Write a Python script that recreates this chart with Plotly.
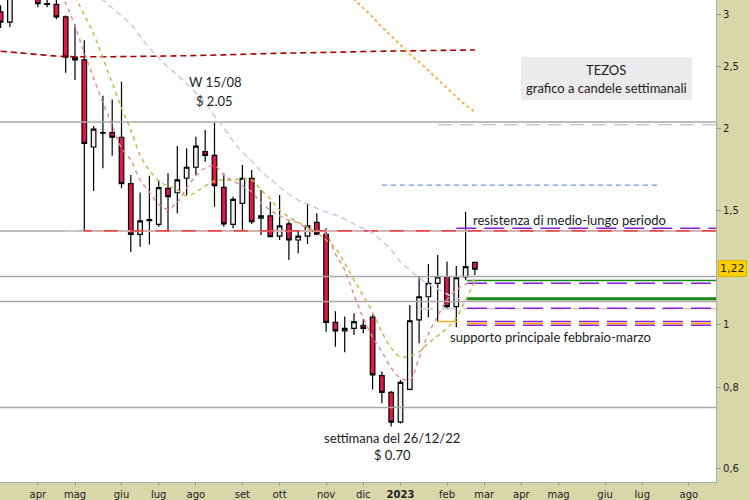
import plotly.graph_objects as go
import pandas as pd

# ---------------- data ----------------
week0 = pd.Timestamp("2023-01-02")
week_offsets = list(range(-43, 9))          # weekly candles, offset in weeks from 2 Jan 2023
dates = [week0 + pd.Timedelta(weeks=k) for k in week_offsets]

opens = [3.03, 2.92, 3.25, 3.40, 3.20, 3.11, 3.11, 2.975, 2.58, 2.555,
         1.876, 1.97, 1.974, 1.942, 1.648, 1.376, 1.445, 1.426, 1.620, 1.595,
         1.679, 1.746, 1.845, 1.821, 1.626, 1.426, 1.536, 1.679, 1.457, 1.469,
         1.368, 1.428, 1.349, 1.368, 1.436, 1.376, 1.007, 0.977, 0.986, 0.997,
         1.026, 0.834, 0.786, 0.707, 0.794, 1.016, 1.103, 1.157, 1.184, 1.065,
         1.184, 1.246]
highs = [3.10, 3.35, 3.50, 3.48, 3.30, 3.22, 3.18, 2.99, 2.90, 2.74,
         2.021, 2.25, 2.22, 2.365, 1.699, 1.597, 1.694, 1.669, 1.709, 1.882,
         1.867, 1.946, 1.992, 2.045, 1.709, 1.573, 1.760, 1.729, 1.611, 1.545,
         1.582, 1.440, 1.398, 1.536, 1.483, 1.406, 1.048, 1.028, 1.040, 1.019,
         1.036, 0.846, 0.790, 0.821, 1.071, 1.184, 1.239, 1.279, 1.250, 1.230,
         1.491, 1.246]
lows = [2.86, 2.87, 3.20, 3.22, 3.08, 3.08, 2.95, 2.44, 2.38, 1.39,
        1.605, 1.74, 1.819, 1.620, 1.293, 1.317, 1.328, 1.414, 1.393, 1.483,
        1.582, 1.699, 1.780, 1.518, 1.414, 1.406, 1.398, 1.428, 1.373, 1.362,
        1.349, 1.257, 1.287, 1.330, 1.373, 0.974, 0.924, 0.906, 0.963, 0.969,
        0.794, 0.756, 0.696, 0.704, 0.792, 0.935, 1.026, 1.010, 1.055, 0.990,
        1.170, 1.191]
closes = [2.92, 3.25, 3.40, 3.28, 3.12, 3.12, 2.975, 2.58, 2.555, 1.90,
          1.999, 1.975, 1.942, 1.648, 1.376, 1.444, 1.450, 1.624, 1.573, 1.669,
          1.746, 1.882, 1.821, 1.635, 1.428, 1.558, 1.679, 1.439, 1.469, 1.365,
          1.418, 1.349, 1.368, 1.418, 1.377, 1.007, 0.977, 0.986, 1.010, 0.986,
          0.836, 0.786, 0.707, 0.814, 1.013, 1.103, 1.157, 1.184, 1.065, 1.180,
          1.227, 1.216]

# moving averages (values read per week)
ma_fast_weeks = list(range(-37, 9))
ma_fast = [3.30, 3.12, 2.881, 2.618, 2.396, 2.193, 2.028, 1.869, 1.791, 1.669,
           1.599, 1.530, 1.505, 1.543, 1.622, 1.693, 1.741, 1.754, 1.699, 1.663,
           1.634, 1.599, 1.538, 1.500, 1.469, 1.448, 1.433, 1.406, 1.393, 1.377,
           1.284, 1.213, 1.110, 1.023, 0.956, 0.907, 0.857, 0.827, 0.821, 0.888,
           0.967, 1.030, 1.090, 1.130, 1.153, 1.171]
ma_mid_weeks = list(range(-35, 9))
ma_mid = [3.20, 2.996, 2.800, 2.572, 2.354, 2.154, 1.992, 1.823, 1.729, 1.663,
          1.634, 1.611, 1.577, 1.599, 1.634, 1.663, 1.669, 1.669, 1.675, 1.669,
          1.611, 1.560, 1.500, 1.464, 1.436, 1.413, 1.383, 1.349, 1.311, 1.243,
          1.171, 1.106, 1.045, 0.973, 0.920, 0.891, 0.894, 0.907, 0.936, 0.960,
          0.987, 1.023, 1.090, 1.166]
ma_slow_weeks = list(range(-33, 8))
ma_slow = [3.25, 3.16, 3.071, 2.985, 2.901, 2.781, 2.665, 2.572, 2.491, 2.422,
           2.345, 2.272, 2.193, 2.094, 2.007, 1.916, 1.843, 1.785, 1.723, 1.675,
           1.628, 1.588, 1.554, 1.533, 1.510, 1.490, 1.474, 1.453, 1.428, 1.406,
           1.383, 1.344, 1.302, 1.248, 1.213, 1.179, 1.153, 1.134, 1.114, 1.098,
           1.090]
ma_long_weeks = [-43, -41, -39, -37, -35, -31, -27, -23, -19, -15, -11, -7, -3, 1, 5, 8]
ma_long = [2.635, 2.620, 2.604, 2.590, 2.584, 2.584, 2.588, 2.593, 2.601, 2.611,
           2.619, 2.625, 2.633, 2.638, 2.643, 2.646]
ma_vlong_weeks = list(range(-6, 9))
ma_vlong = [3.27, 3.17, 3.07, 2.975, 2.871, 2.781, 2.693, 2.607, 2.536, 2.456,
            2.387, 2.312, 2.240, 2.177, 2.124]

# horizontal levels
gray_levels = [2.05, 1.393, 1.185, 1.085, 0.745]
red_level = 1.393
red_level_start = "2022-05-09"
purple_levels = [1.406, 1.157, 1.059, 1.010, 0.997]
purple_starts = ["2023-02-13", "2023-02-21", "2023-02-21", "2023-02-21", "2023-02-21"]
orange_dash_level = 1.003
green_levels = [1.168, 1.095]
green_widths = [1.5, 3]
green_start = "2023-02-21"
lightgray_dash_levels = [2.03, 1.057]
lightgray_dash_starts = ["2023-01-30", "2023-01-16"]
blue_level = 1.639
blue_span = ["2022-12-19", "2023-07-17"]
orange_short_level = 1.010
orange_short_span = ["2023-01-30", "2023-02-14"]
last_price = 1.22

month_ticks = ["2022-04-04", "2022-05-02", "2022-06-06", "2022-07-04", "2022-08-01",
               "2022-09-05", "2022-10-03", "2022-11-07", "2022-12-05", "2023-01-02",
               "2023-02-06", "2023-03-06", "2023-04-03", "2023-05-01", "2023-06-05",
               "2023-07-03", "2023-08-07"]
month_labels = ["apr", "mag", "giu", "lug", "ago", "set", "ott", "nov", "dic",
                "<b>2023</b>", "feb", "mar", "apr", "mag", "giu", "lug", "ago"]
y_ticks = [0.6, 0.8, 1, 1.5, 2, 2.5, 3]
y_tick_labels = ["0,6", "0,8", "1", "1,5", "2", "2,5", "3"]

# ---------------- layout helpers ----------------
PLOT_W, PLOT_H = 716, 482
PX_PER_WEEK = 9.3
x_start = week0 - pd.Timedelta(weeks=400.5 / PX_PER_WEEK)
x_end = x_start + pd.Timedelta(weeks=PLOT_W / PX_PER_WEEK)

def wk(ks):
    return [week0 + pd.Timedelta(weeks=k) for k in ks]

fig = go.Figure()

def hline(y, x0, x1, color, width=1.2, dash="solid"):
    fig.add_trace(go.Scatter(x=[x0, x1], y=[y, y], mode="lines",
                             line=dict(color=color, width=width, dash=dash),
                             hoverinfo="skip", showlegend=False))

for lv in gray_levels:
    hline(lv, x_start, x_end, "#a9a9a9", 1.5)
hline(red_level, pd.Timestamp(red_level_start), x_end, "#ff2020", 1.3)
hline(red_level, week0 - pd.Timedelta(weeks=36), x_end, "#cfcfcf", 1.5, "12px,14px")
hline(blue_level, pd.Timestamp(blue_span[0]), pd.Timestamp(blue_span[1]), "#6a98e8", 1.2, "5px,4px")
for lv, st in zip(lightgray_dash_levels, lightgray_dash_starts):
    hline(lv, pd.Timestamp(st), x_end, "#cccccc", 1.5, "14px,8px")
for lv, w in zip(green_levels, green_widths):
    hline(lv, pd.Timestamp(green_start), x_end, "#138a13", w)
for lv, st in zip(purple_levels, purple_starts):
    hline(lv, pd.Timestamp(st), x_end, "#8a1ed6", 1.5, "20px,8px")
hline(orange_dash_level, pd.Timestamp(green_start), x_end, "#ffa500", 1.5, "20px,8px")
hline(orange_short_level, pd.Timestamp(orange_short_span[0]), pd.Timestamp(orange_short_span[1]), "#ffb020", 1.5)

fig.add_trace(go.Candlestick(
    x=dates, open=opens, high=highs, low=lows, close=closes,
    increasing=dict(line=dict(color="#000000", width=1.2), fillcolor="#f0f0f0"),
    decreasing=dict(line=dict(color="#000000", width=1.2), fillcolor="#e5174a"),
    whiskerwidth=0, showlegend=False, hoverinfo="skip"))

def ma(ks, vals, color, dash, width=1.5, shape="spline"):
    fig.add_trace(go.Scatter(x=wk(ks), y=vals, mode="lines",
                             line=dict(color=color, width=width, dash=dash, shape=shape),
                             hoverinfo="skip", showlegend=False))

ma(ma_long_weeks, ma_long, "#a80000", "6px,4px", 1.6)
ma(ma_slow_weeks, ma_slow, "#c9c9f2", "6px,4px", 1.5)
ma(ma_vlong_weeks, ma_vlong, "#f2b548", "3px,3px", 2, "linear")
ma(ma_mid_weeks, ma_mid, "#bdbd45", "4px,4px", 1.5)
ma(ma_fast_weeks, ma_fast, "#e49090", "4px,4px", 1.5)

txt = dict(family="Lato", size=13, color="#222222")
def note(text, px, py):
    fig.add_annotation(text=text, xref="paper", yref="paper", x=px / PLOT_W, y=1 - py / PLOT_H,
                       showarrow=False, font=txt, xanchor="center", yanchor="middle")

note("W 15/08", 215, 82)
note("$ 2.05", 214, 101)
note("resistenza di medio-lungo periodo", 569, 220)
note("supporto principale febbraio-marzo", 550, 337)
note("settimana del 26/12/22", 392, 438)
note("$ 0.70", 392, 455)

fig.add_shape(type="rect", xref="paper", yref="paper",
              x0=521 / PLOT_W, x1=692 / PLOT_W, y0=1 - 100 / PLOT_H, y1=1 - 57 / PLOT_H,
              fillcolor="#ebebeb", line=dict(width=0), layer="below")
note("TEZOS", 606, 70)
note("grafico a candele settimanali", 606, 88)

fig.add_annotation(text="1,22", xref="paper", yref="y", x=1, y=0.0864, xanchor="left",
                   xshift=2, showarrow=False, bgcolor="#ffd000", bordercolor="#d8b800",
                   borderpad=1, font=dict(family="DejaVu Sans", size=11, color="#222"))

fig.update_layout(
    width=750, height=500,
    margin=dict(l=0, r=34, t=0, b=18),
    paper_bgcolor="#d9d7aa", plot_bgcolor="#ffffff",
    hovermode=False,
    xaxis=dict(type="date", range=[x_start, x_end], tickvals=month_ticks, ticktext=month_labels,
               showgrid=False, zeroline=False, rangeslider=dict(visible=False),
               ticks="outside", ticklen=3, tickcolor="#999999",
               tickfont=dict(family="DejaVu Sans", size=10, color="#222222"),
               showline=True, linecolor="#aaaaaa", linewidth=1),
    yaxis=dict(type="log", side="right", range=[-0.2427, 0.4996],
               tickvals=y_ticks, ticktext=y_tick_labels, showgrid=False, zeroline=False,
               ticks="outside", ticklen=4, tickcolor="#999999",
               tickfont=dict(family="DejaVu Sans", size=10, color="#222222"),
               showline=True, linecolor="#aaaaaa", linewidth=1, mirror=False),
)

fig.write_html("out.html", config={"displayModeBar": False, "staticPlot": True},
               post_script="document.body.style.margin='0px';")
